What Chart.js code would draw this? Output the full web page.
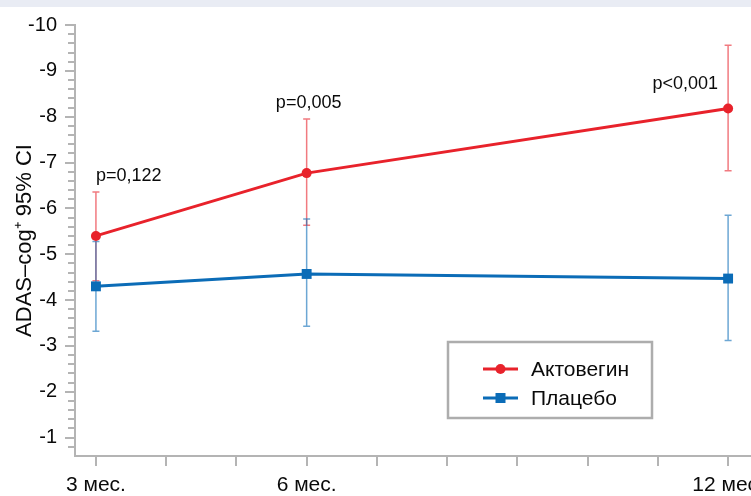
<!DOCTYPE html>
<html>
<head>
<meta charset="utf-8">
<script src="https://cdn.jsdelivr.net/npm/chart.js@4.4.1/dist/chart.umd.min.js"></script>
<style>
  html, body { margin: 0; padding: 0; width: 751px; height: 496px; overflow: hidden; background: #ffffff; }
  #band { position: absolute; left: 0; top: 0; width: 751px; height: 7px; background: #e9ecf4; }
  #wrap { position: absolute; left: 0; top: 0; width: 800px; height: 496px; }
</style>
</head>
<body>
<div id="band"></div>
<div id="wrap"><canvas id="c" width="800" height="496"></canvas></div>
<script>
// ---- data ----
const xMonths = [3, 6, 12];
const xTickValues = [3, 4, 5, 6, 7, 8, 9, 10, 11, 12];
const xLabelMonths = [3, 6, 12];
const xLabelTexts = ['3 мес.', '6 мес.', '12 мес.'];
const yTickValues = [-10, -9, -8, -7, -6, -5, -4, -3, -2, -1];
const seriesNames = ['Актовегин', 'Плацебо'];
const actoMean = [-5.40, -6.77, -8.18];
const actoCiLow = [-4.42, -5.63, -6.82];
const actoCiHigh = [-6.36, -7.95, -9.56];
const placMean = [-4.30, -4.57, -4.47];
const placCiLow = [-3.32, -3.43, -3.12];
const placCiHigh = [-5.28, -5.77, -5.85];
const pLabels = ['p=0,122', 'p=0,005', 'p<0,001'];
const yTitle = 'ADAS–cog⁺ 95% CI';

// ---- styles ----
const FONT = "'Liberation Sans', Arial, sans-serif";
const RED = '#e8222b';
const BLUE = '#0b6cb7';
const RED_ERR = 'rgba(232,34,43,0.6)';
const BLUE_ERR = 'rgba(11,108,183,0.6)';
const AXIS = '#b4b4b4';
const TEXT = '#0a0a0a';
const pLabelStyle = [
  { align: 'left', dx: 0, anchor: 'high', dy: -16 },
  { align: 'center', dx: 2, anchor: 'high', dy: -16 },
  { align: 'right', dx: -10, anchor: 'mean', dy: -24 }
];
const legendBox = { x: 448, y: 342, w: 204, h: 76 };

const errSets = [
  { lo: actoCiLow, hi: actoCiHigh, color: RED_ERR },
  { lo: placCiLow, hi: placCiHigh, color: BLUE_ERR }
];

const errorBars = {
  id: 'errorBars',
  beforeDatasetsDraw(chart) {
    const ctx = chart.ctx, xs = chart.scales.x, ys = chart.scales.y;
    ctx.save();
    ctx.lineWidth = 1.5;
    errSets.forEach(s => {
      ctx.strokeStyle = s.color;
      xMonths.forEach((m, i) => {
        const x = xs.getPixelForValue(m);
        const y1 = ys.getPixelForValue(s.lo[i]);
        const y2 = ys.getPixelForValue(s.hi[i]);
        ctx.beginPath();
        ctx.moveTo(x, y1); ctx.lineTo(x, y2);
        ctx.moveTo(x - 3.5, y1); ctx.lineTo(x + 3.5, y1);
        ctx.moveTo(x - 3.5, y2); ctx.lineTo(x + 3.5, y2);
        ctx.stroke();
      });
    });
    ctx.restore();
  }
};

const extras = {
  id: 'extras',
  afterDraw(chart) {
    const ctx = chart.ctx, xs = chart.scales.x, ys = chart.scales.y;
    ctx.save();
    // minor y ticks
    ctx.strokeStyle = AXIS;
    ctx.lineWidth = 2;
    const axisX = chart.chartArea.left;
    for (let k = 0; k <= 46; k++) {
      const v = -10 + k * 0.2;
      if (Math.abs(v - Math.round(v)) < 1e-6) continue;
      const y = Math.round(ys.getPixelForValue(v));
      ctx.beginPath();
      ctx.moveTo(axisX - 7, y); ctx.lineTo(axisX, y);
      ctx.stroke();
    }
    // p-value labels
    ctx.fillStyle = TEXT;
    ctx.font = '18px ' + FONT;
    ctx.textBaseline = 'middle';
    pLabels.forEach((t, i) => {
      const st = pLabelStyle[i];
      const x = xs.getPixelForValue(xMonths[i]) + st.dx;
      const base = st.anchor === 'high' ? actoCiHigh[i] : actoMean[i];
      const y = ys.getPixelForValue(base) + st.dy;
      ctx.textAlign = st.align;
      ctx.fillText(t, x, y);
    });
    // legend
    const b = legendBox;
    ctx.strokeStyle = '#adadad';
    ctx.lineWidth = 2.5;
    ctx.strokeRect(b.x, b.y, b.w, b.h);
    ctx.font = '21px ' + FONT;
    ctx.textAlign = 'left';
    ctx.textBaseline = 'middle';
    chart.data.datasets.forEach((ds, i) => {
      const cy = b.y + 27 + i * 29;
      ctx.strokeStyle = ds.borderColor;
      ctx.lineWidth = 3;
      ctx.beginPath();
      ctx.moveTo(b.x + 35, cy); ctx.lineTo(b.x + 70, cy);
      ctx.stroke();
      ctx.fillStyle = ds.borderColor;
      if (ds.pointStyle === 'circle') {
        ctx.beginPath(); ctx.arc(b.x + 52.5, cy, 5, 0, Math.PI * 2); ctx.fill();
      } else {
        ctx.fillRect(b.x + 47.5, cy - 5, 10, 10);
      }
      ctx.fillStyle = TEXT;
      ctx.fillText(ds.label, b.x + 83, cy + 1);
    });
    ctx.restore();
  }
};

new Chart(document.getElementById('c'), {
  type: 'line',
  data: {
    datasets: [
      {
        label: seriesNames[0],
        data: xMonths.map((m, i) => ({ x: m, y: actoMean[i] })),
        borderColor: RED, backgroundColor: RED,
        borderWidth: 3, pointStyle: 'circle', pointRadius: 5,
        pointBackgroundColor: RED, pointBorderWidth: 0, tension: 0
      },
      {
        label: seriesNames[1],
        data: xMonths.map((m, i) => ({ x: m, y: placMean[i] })),
        borderColor: BLUE, backgroundColor: BLUE,
        borderWidth: 3, pointStyle: 'rect', pointRadius: 7,
        pointBackgroundColor: BLUE, pointBorderWidth: 0, tension: 0
      }
    ]
  },
  options: {
    responsive: false,
    animation: false,
    devicePixelRatio: 1,
    layout: { padding: { top: 25, right: 0, bottom: 0, left: 0 } },
    plugins: { legend: { display: false }, tooltip: { enabled: false } },
    scales: {
      x: {
        type: 'linear', min: 2.702, max: 12.924,
        afterBuildTicks: s => { s.ticks = xTickValues.map(v => ({ value: v })); },
        afterFit: s => { s.height = 40; },
        grid: { drawOnChartArea: false, drawTicks: true, tickLength: 10, color: AXIS, lineWidth: 2 },
        border: { display: true, color: AXIS, width: 2 },
        ticks: {
          autoSkip: false, maxRotation: 0, padding: 7, color: TEXT,
          font: { family: FONT, size: 21 },
          callback: v => { const k = xLabelMonths.indexOf(v); return k >= 0 ? xLabelTexts[k] : ''; }
        }
      },
      y: {
        type: 'linear', reverse: true, min: -10, max: -0.6,
        afterBuildTicks: s => { s.ticks = yTickValues.map(v => ({ value: v })); },
        afterFit: s => { s.width = 75; },
        grid: { drawOnChartArea: false, drawTicks: true, tickLength: 10, color: AXIS, lineWidth: 2 },
        border: { display: true, color: AXIS, width: 2 },
        ticks: { autoSkip: false, padding: 8, color: TEXT, font: { family: FONT, size: 20 } },
        title: {
          display: true, text: yTitle, color: TEXT,
          font: { family: FONT, size: 22 },
          padding: { top: 12, bottom: 12 }
        }
      }
    }
  },
  plugins: [errorBars, extras]
});
</script>
</body>
</html>
